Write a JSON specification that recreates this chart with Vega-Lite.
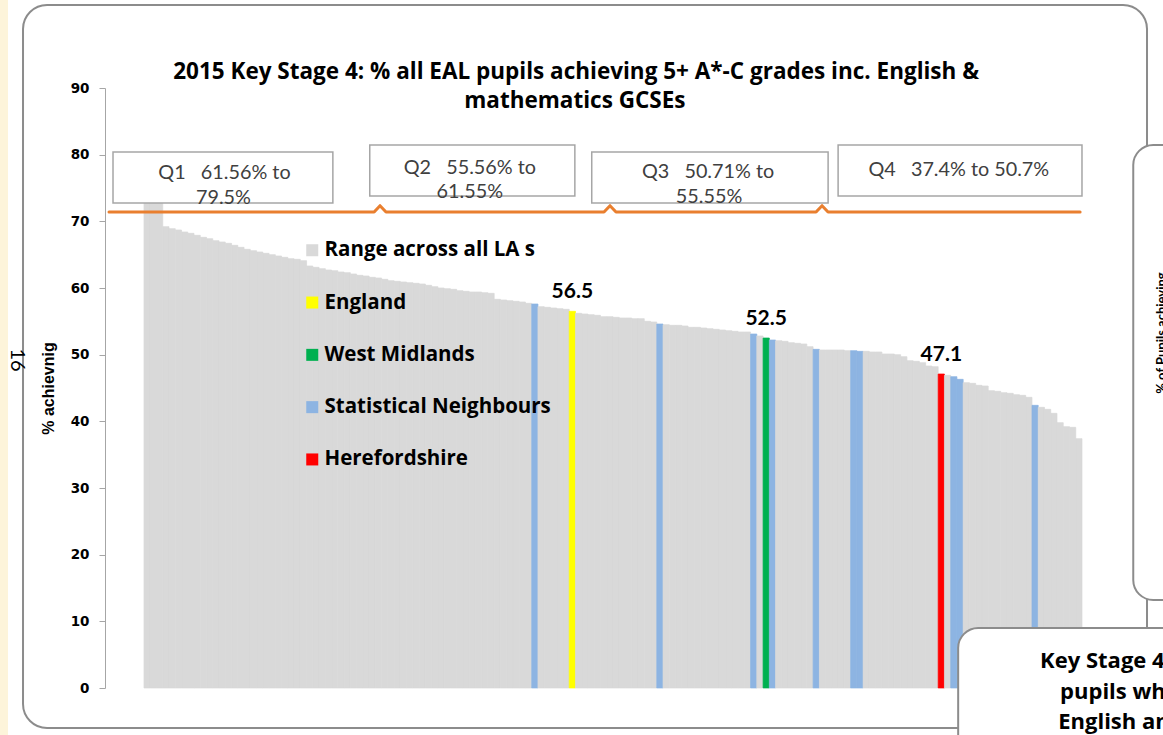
{
  "$schema": "https://vega.github.io/schema/vega-lite/v6.json",
  "width": 1016,
  "height": 600,
  "autosize": {"type": "none"},
  "padding": {"left": 105, "top": 88, "right": 42, "bottom": 47},
  "background": "#FFFFFF",
  "config": {
    "view": {"stroke": null},
    "font": "Lato",
    "axisY": {
      "grid": false, "domainColor": "#A6A6A6", "tickColor": "#A6A6A6", "tickSize": 6,
      "labelFont": "DejaVu Sans", "labelFontWeight": "bold", "labelFontSize": 13.5, "labelColor": "#000000",
      "labelPadding": 10, "titleFont": "Liberation Sans", "titleFontSize": 16, "titleFontWeight": "bold",
      "titleColor": "#000000", "titlePadding": 14
    }
  },
  "datasets": {
    "las": [
      {"rank": 0, "value": 79.5, "group": "Range across all LA s"},
      {"rank": 1, "value": 75.9, "group": "Range across all LA s"},
      {"rank": 2, "value": 73.2, "group": "Range across all LA s"},
      {"rank": 3, "value": 69.2, "group": "Range across all LA s"},
      {"rank": 4, "value": 68.9, "group": "Range across all LA s"},
      {"rank": 5, "value": 68.7, "group": "Range across all LA s"},
      {"rank": 6, "value": 68.4, "group": "Range across all LA s"},
      {"rank": 7, "value": 68.2, "group": "Range across all LA s"},
      {"rank": 8, "value": 67.9, "group": "Range across all LA s"},
      {"rank": 9, "value": 67.6, "group": "Range across all LA s"},
      {"rank": 10, "value": 67.4, "group": "Range across all LA s"},
      {"rank": 11, "value": 67.1, "group": "Range across all LA s"},
      {"rank": 12, "value": 66.9, "group": "Range across all LA s"},
      {"rank": 13, "value": 66.7, "group": "Range across all LA s"},
      {"rank": 14, "value": 66.4, "group": "Range across all LA s"},
      {"rank": 15, "value": 66.1, "group": "Range across all LA s"},
      {"rank": 16, "value": 65.8, "group": "Range across all LA s"},
      {"rank": 17, "value": 65.6, "group": "Range across all LA s"},
      {"rank": 18, "value": 65.4, "group": "Range across all LA s"},
      {"rank": 19, "value": 65.2, "group": "Range across all LA s"},
      {"rank": 20, "value": 65.0, "group": "Range across all LA s"},
      {"rank": 21, "value": 64.8, "group": "Range across all LA s"},
      {"rank": 22, "value": 64.6, "group": "Range across all LA s"},
      {"rank": 23, "value": 64.4, "group": "Range across all LA s"},
      {"rank": 24, "value": 64.3, "group": "Range across all LA s"},
      {"rank": 25, "value": 64.1, "group": "Range across all LA s"},
      {"rank": 26, "value": 63.3, "group": "Range across all LA s"},
      {"rank": 27, "value": 63.1, "group": "Range across all LA s"},
      {"rank": 28, "value": 62.9, "group": "Range across all LA s"},
      {"rank": 29, "value": 62.7, "group": "Range across all LA s"},
      {"rank": 30, "value": 62.6, "group": "Range across all LA s"},
      {"rank": 31, "value": 62.4, "group": "Range across all LA s"},
      {"rank": 32, "value": 62.3, "group": "Range across all LA s"},
      {"rank": 33, "value": 62.1, "group": "Range across all LA s"},
      {"rank": 34, "value": 61.9, "group": "Range across all LA s"},
      {"rank": 35, "value": 61.8, "group": "Range across all LA s"},
      {"rank": 36, "value": 61.6, "group": "Range across all LA s"},
      {"rank": 37, "value": 61.5, "group": "Range across all LA s"},
      {"rank": 38, "value": 61.3, "group": "Range across all LA s"},
      {"rank": 39, "value": 61.1, "group": "Range across all LA s"},
      {"rank": 40, "value": 61.0, "group": "Range across all LA s"},
      {"rank": 41, "value": 60.9, "group": "Range across all LA s"},
      {"rank": 42, "value": 60.8, "group": "Range across all LA s"},
      {"rank": 43, "value": 60.7, "group": "Range across all LA s"},
      {"rank": 44, "value": 60.6, "group": "Range across all LA s"},
      {"rank": 45, "value": 60.4, "group": "Range across all LA s"},
      {"rank": 46, "value": 60.2, "group": "Range across all LA s"},
      {"rank": 47, "value": 60.0, "group": "Range across all LA s"},
      {"rank": 48, "value": 59.9, "group": "Range across all LA s"},
      {"rank": 49, "value": 59.8, "group": "Range across all LA s"},
      {"rank": 50, "value": 59.6, "group": "Range across all LA s"},
      {"rank": 51, "value": 59.5, "group": "Range across all LA s"},
      {"rank": 52, "value": 59.4, "group": "Range across all LA s"},
      {"rank": 53, "value": 59.4, "group": "Range across all LA s"},
      {"rank": 54, "value": 59.3, "group": "Range across all LA s"},
      {"rank": 55, "value": 59.2, "group": "Range across all LA s"},
      {"rank": 56, "value": 58.3, "group": "Range across all LA s"},
      {"rank": 57, "value": 58.2, "group": "Range across all LA s"},
      {"rank": 58, "value": 58.1, "group": "Range across all LA s"},
      {"rank": 59, "value": 58.0, "group": "Range across all LA s"},
      {"rank": 60, "value": 57.9, "group": "Range across all LA s"},
      {"rank": 61, "value": 57.7, "group": "Range across all LA s"},
      {"rank": 62, "value": 57.6, "group": "Statistical Neighbours"},
      {"rank": 63, "value": 57.2, "group": "Range across all LA s"},
      {"rank": 64, "value": 57.1, "group": "Range across all LA s"},
      {"rank": 65, "value": 57.0, "group": "Range across all LA s"},
      {"rank": 66, "value": 56.9, "group": "Range across all LA s"},
      {"rank": 67, "value": 56.8, "group": "Range across all LA s"},
      {"rank": 68, "value": 56.5, "group": "England"},
      {"rank": 69, "value": 56.2, "group": "Range across all LA s"},
      {"rank": 70, "value": 56.1, "group": "Range across all LA s"},
      {"rank": 71, "value": 56.0, "group": "Range across all LA s"},
      {"rank": 72, "value": 55.9, "group": "Range across all LA s"},
      {"rank": 73, "value": 55.7, "group": "Range across all LA s"},
      {"rank": 74, "value": 55.7, "group": "Range across all LA s"},
      {"rank": 75, "value": 55.6, "group": "Range across all LA s"},
      {"rank": 76, "value": 55.5, "group": "Range across all LA s"},
      {"rank": 77, "value": 55.5, "group": "Range across all LA s"},
      {"rank": 78, "value": 55.4, "group": "Range across all LA s"},
      {"rank": 79, "value": 55.4, "group": "Range across all LA s"},
      {"rank": 80, "value": 55.0, "group": "Range across all LA s"},
      {"rank": 81, "value": 54.9, "group": "Range across all LA s"},
      {"rank": 82, "value": 54.6, "group": "Statistical Neighbours"},
      {"rank": 83, "value": 54.5, "group": "Range across all LA s"},
      {"rank": 84, "value": 54.4, "group": "Range across all LA s"},
      {"rank": 85, "value": 54.4, "group": "Range across all LA s"},
      {"rank": 86, "value": 54.3, "group": "Range across all LA s"},
      {"rank": 87, "value": 54.1, "group": "Range across all LA s"},
      {"rank": 88, "value": 54.1, "group": "Range across all LA s"},
      {"rank": 89, "value": 54.0, "group": "Range across all LA s"},
      {"rank": 90, "value": 53.9, "group": "Range across all LA s"},
      {"rank": 91, "value": 53.8, "group": "Range across all LA s"},
      {"rank": 92, "value": 53.7, "group": "Range across all LA s"},
      {"rank": 93, "value": 53.6, "group": "Range across all LA s"},
      {"rank": 94, "value": 53.5, "group": "Range across all LA s"},
      {"rank": 95, "value": 53.4, "group": "Range across all LA s"},
      {"rank": 96, "value": 53.4, "group": "Range across all LA s"},
      {"rank": 97, "value": 53.1, "group": "Statistical Neighbours"},
      {"rank": 98, "value": 52.8, "group": "Range across all LA s"},
      {"rank": 99, "value": 52.5, "group": "West Midlands"},
      {"rank": 100, "value": 52.2, "group": "Statistical Neighbours"},
      {"rank": 101, "value": 52.1, "group": "Range across all LA s"},
      {"rank": 102, "value": 52.0, "group": "Range across all LA s"},
      {"rank": 103, "value": 51.8, "group": "Range across all LA s"},
      {"rank": 104, "value": 51.7, "group": "Range across all LA s"},
      {"rank": 105, "value": 51.6, "group": "Range across all LA s"},
      {"rank": 106, "value": 51.2, "group": "Range across all LA s"},
      {"rank": 107, "value": 50.8, "group": "Statistical Neighbours"},
      {"rank": 108, "value": 50.7, "group": "Range across all LA s"},
      {"rank": 109, "value": 50.7, "group": "Range across all LA s"},
      {"rank": 110, "value": 50.7, "group": "Range across all LA s"},
      {"rank": 111, "value": 50.7, "group": "Range across all LA s"},
      {"rank": 112, "value": 50.6, "group": "Range across all LA s"},
      {"rank": 113, "value": 50.6, "group": "Statistical Neighbours"},
      {"rank": 114, "value": 50.5, "group": "Statistical Neighbours"},
      {"rank": 115, "value": 50.5, "group": "Range across all LA s"},
      {"rank": 116, "value": 50.4, "group": "Range across all LA s"},
      {"rank": 117, "value": 50.4, "group": "Range across all LA s"},
      {"rank": 118, "value": 50.1, "group": "Range across all LA s"},
      {"rank": 119, "value": 50.1, "group": "Range across all LA s"},
      {"rank": 120, "value": 50.0, "group": "Range across all LA s"},
      {"rank": 121, "value": 49.7, "group": "Range across all LA s"},
      {"rank": 122, "value": 49.1, "group": "Range across all LA s"},
      {"rank": 123, "value": 49.0, "group": "Range across all LA s"},
      {"rank": 124, "value": 48.8, "group": "Range across all LA s"},
      {"rank": 125, "value": 48.3, "group": "Range across all LA s"},
      {"rank": 126, "value": 48.2, "group": "Range across all LA s"},
      {"rank": 127, "value": 47.1, "group": "Herefordshire"},
      {"rank": 128, "value": 46.9, "group": "Range across all LA s"},
      {"rank": 129, "value": 46.7, "group": "Statistical Neighbours"},
      {"rank": 130, "value": 46.3, "group": "Statistical Neighbours"},
      {"rank": 131, "value": 45.8, "group": "Range across all LA s"},
      {"rank": 132, "value": 45.7, "group": "Range across all LA s"},
      {"rank": 133, "value": 45.4, "group": "Range across all LA s"},
      {"rank": 134, "value": 45.3, "group": "Range across all LA s"},
      {"rank": 135, "value": 44.6, "group": "Range across all LA s"},
      {"rank": 136, "value": 44.5, "group": "Range across all LA s"},
      {"rank": 137, "value": 44.3, "group": "Range across all LA s"},
      {"rank": 138, "value": 44.2, "group": "Range across all LA s"},
      {"rank": 139, "value": 44.0, "group": "Range across all LA s"},
      {"rank": 140, "value": 43.9, "group": "Range across all LA s"},
      {"rank": 141, "value": 43.6, "group": "Range across all LA s"},
      {"rank": 142, "value": 42.4, "group": "Statistical Neighbours"},
      {"rank": 143, "value": 42.1, "group": "Range across all LA s"},
      {"rank": 144, "value": 41.8, "group": "Range across all LA s"},
      {"rank": 145, "value": 41.2, "group": "Range across all LA s"},
      {"rank": 146, "value": 39.8, "group": "Range across all LA s"},
      {"rank": 147, "value": 39.2, "group": "Range across all LA s"},
      {"rank": 148, "value": 39.1, "group": "Range across all LA s"},
      {"rank": 149, "value": 37.4, "group": "Range across all LA s"}
    ],
    "margin": [{"start": -23.1, "end": -21.75, "top": 115, "bottom": -15}],
    "frame": [{"start": -19.35, "end": 160.4, "top": 102.45, "bottom": -6.0}],
    "qboxes": [
      {"q": "Q1", "start": -4.96, "end": 30.2, "top": 80.4, "bottom": 72.75},
      {"q": "Q2", "start": 36.1, "end": 68.9, "top": 81.45, "bottom": 73.8},
      {"q": "Q3", "start": 71.6, "end": 109.4, "top": 80.4, "bottom": 72.75},
      {"q": "Q4", "start": 111.0, "end": 150.0, "top": 81.45, "bottom": 73.8}
    ],
    "sideboxes": [
      {"panel": "right", "start": 158.2, "end": 185, "top": 81.45, "bottom": 13.2},
      {"panel": "bottom", "start": 130.2, "end": 185, "top": 9.0, "bottom": -25}
    ],
    "bracket": [
      {"pos": -5.6, "level": 71.4},
      {"pos": 36.8, "level": 71.4},
      {"pos": 37.74, "level": 72.35},
      {"pos": 38.7, "level": 71.4},
      {"pos": 73.56, "level": 71.4},
      {"pos": 74.52, "level": 72.35},
      {"pos": 75.48, "level": 71.4},
      {"pos": 107.47, "level": 71.4},
      {"pos": 108.43, "level": 72.35},
      {"pos": 109.39, "level": 71.4},
      {"pos": 149.7, "level": 71.4}
    ],
    "heading": [
      {"label": "2015 Key Stage 4: % all EAL pupils achieving 5+ A*-C grades inc. English &", "pos": 69.1, "level": 92.4},
      {"label": "mathematics GCSEs", "pos": 68.9, "level": 88.05}
    ],
    "qtext": [
      {"label": "Q1\u00a0\u00a0\u00a061.56% to", "pos": 12.87, "level": 77.25},
      {"label": "79.5%", "pos": 12.7, "level": 73.5},
      {"label": "Q2\u00a0\u00a0\u00a055.56% to", "pos": 52.1, "level": 78.0},
      {"label": "61.55%", "pos": 52.1, "level": 74.4},
      {"label": "Q3\u00a0\u00a0\u00a050.71% to", "pos": 90.2, "level": 77.4},
      {"label": "55.55%", "pos": 90.36, "level": 73.65},
      {"label": "Q4\u00a0\u00a0\u00a037.4% to 50.7%", "pos": 130.3, "level": 77.7}
    ],
    "sidetext": [
      {"label": "Key Stage 4", "pos": 143.3, "level": 4.05},
      {"label": "pupils who", "pos": 146.5, "level": -0.6},
      {"label": "English and", "pos": 146.2, "level": -5.1}
    ],
    "rotext": [{"label": "% of Pupils achieving", "pos": 162.8, "level": 53.25}],
    "pagenum": [{"label": "16", "pos": -20.3, "level": 49.2}]
  },
  "layer": [
    {
      "layer": [
        {
          "data": {"name": "las"},
          "mark": {"type": "bar", "strokeWidth": 0.7},
          "encoding": {
            "x": {"field": "rank", "type": "ordinal", "scale": {"paddingInner": 0, "paddingOuter": 0, "range": [39, 977]}, "axis": null},
            "y": {
              "field": "value", "type": "quantitative",
              "scale": {"domain": [0, 90], "nice": false},
              "axis": {"title": "% achievnig", "values": [0, 10, 20, 30, 40, 50, 60, 70, 80, 90]}
            },
            "color": {
              "field": "group", "type": "nominal",
              "scale": {
                "domain": ["Range across all LA s", "England", "West Midlands", "Statistical Neighbours", "Herefordshire"],
                "range": ["#D9D9D9", "#FFFF00", "#00B050", "#8DB4E2", "#FF0000"]
              },
              "legend": {
                "orient": "none", "legendX": 197, "legendY": 152, "title": null, "symbolType": "square",
                "symbolSize": 144, "symbolStrokeWidth": 0, "symbolOpacity": 1, "labelFont": "Open Sans", "labelFontSize": 20.5,
                "labelFontWeight": "bold", "labelColor": "#000000", "labelOffset": 2, "rowPadding": 31.3, "padding": 0,
                "labelLimit": 400
              }
            },
            "stroke": {
              "field": "group", "type": "nominal",
              "scale": {
                "domain": ["Range across all LA s", "England", "West Midlands", "Statistical Neighbours", "Herefordshire"],
                "range": ["#D9D9D9", "#FFFF00", "#00B050", "#8DB4E2", "#FF0000"]
              },
              "legend": null
            }
          }
        },
        {
          "data": {"name": "las"},
          "transform": [{"filter": {"field": "group", "oneOf": ["England", "West Midlands", "Herefordshire"]}}],
          "mark": {"type": "text", "font": "Lato", "fontSize": 21, "fontWeight": "bold", "baseline": "alphabetic", "dy": -13, "color": "#000000"},
          "encoding": {
            "x": {"field": "rank", "type": "ordinal", "axis": null},
            "y": {"field": "value", "type": "quantitative", "scale": {"domain": [0, 90], "nice": false}},
            "text": {"field": "value", "type": "quantitative", "format": ".1f"}
          }
        }
      ]
    },
    {
      "layer": [
        {
          "data": {"name": "margin"},
          "mark": {"type": "rect", "color": "#FDF4DA"},
          "encoding": {
            "x": {"field": "start", "type": "quantitative", "scale": {"domain": [-6.24, 156.24], "nice": false, "zero": false}, "axis": null},
            "x2": {"field": "end"},
            "y": {"field": "top", "type": "quantitative", "scale": {"domain": [0, 90], "nice": false}},
            "y2": {"field": "bottom"}
          }
        },
        {
          "data": {"name": "frame"},
          "mark": {"type": "rect", "fill": "#FFFFFF", "fillOpacity": 0, "stroke": "#8C8C8C", "strokeWidth": 2, "cornerRadius": 24},
          "encoding": {
            "x": {"field": "start", "type": "quantitative", "scale": {"domain": [-6.24, 156.24], "nice": false, "zero": false}, "axis": null},
            "x2": {"field": "end"},
            "y": {"field": "top", "type": "quantitative", "scale": {"domain": [0, 90], "nice": false}},
            "y2": {"field": "bottom"}
          }
        },
        {
          "data": {"name": "qboxes"},
          "mark": {"type": "rect", "fill": "#FFFFFF", "stroke": "#A6A6A6", "strokeWidth": 1.5},
          "encoding": {
            "x": {"field": "start", "type": "quantitative", "scale": {"domain": [-6.24, 156.24], "nice": false, "zero": false}, "axis": null},
            "x2": {"field": "end"},
            "y": {"field": "top", "type": "quantitative", "scale": {"domain": [0, 90], "nice": false}},
            "y2": {"field": "bottom"}
          }
        },
        {
          "data": {"name": "sideboxes"},
          "mark": {"type": "rect", "fill": "#FFFFFF", "stroke": "#8C8C8C", "strokeWidth": 2, "cornerRadius": 20},
          "encoding": {
            "x": {"field": "start", "type": "quantitative", "scale": {"domain": [-6.24, 156.24], "nice": false, "zero": false}, "axis": null},
            "x2": {"field": "end"},
            "y": {"field": "top", "type": "quantitative", "scale": {"domain": [0, 90], "nice": false}},
            "y2": {"field": "bottom"}
          }
        },
        {
          "data": {"name": "bracket"},
          "mark": {"type": "line", "color": "#E97F2F", "strokeWidth": 3, "strokeCap": "round", "strokeJoin": "round"},
          "encoding": {
            "x": {"field": "pos", "type": "quantitative", "scale": {"domain": [-6.24, 156.24], "nice": false, "zero": false}, "axis": null},
            "y": {"field": "level", "type": "quantitative", "scale": {"domain": [0, 90], "nice": false}}
          }
        },
        {
          "data": {"name": "heading"},
          "mark": {"type": "text", "font": "Open Sans", "fontSize": 22.5, "fontWeight": "bold", "color": "#000000", "baseline": "middle", "align": "center"},
          "encoding": {
            "x": {"field": "pos", "type": "quantitative", "scale": {"domain": [-6.24, 156.24], "nice": false, "zero": false}, "axis": null},
            "y": {"field": "level", "type": "quantitative", "scale": {"domain": [0, 90], "nice": false}},
            "text": {"field": "label", "type": "nominal"}
          }
        },
        {
          "data": {"name": "qtext"},
          "mark": {"type": "text", "font": "Lato", "fontSize": 19.8, "color": "#404040", "baseline": "middle", "align": "center"},
          "encoding": {
            "x": {"field": "pos", "type": "quantitative", "scale": {"domain": [-6.24, 156.24], "nice": false, "zero": false}, "axis": null},
            "y": {"field": "level", "type": "quantitative", "scale": {"domain": [0, 90], "nice": false}},
            "text": {"field": "label", "type": "nominal"}
          }
        },
        {
          "data": {"name": "sidetext"},
          "mark": {"type": "text", "font": "Open Sans", "fontSize": 22, "fontWeight": "bold", "color": "#000000", "baseline": "middle", "align": "left"},
          "encoding": {
            "x": {"field": "pos", "type": "quantitative", "scale": {"domain": [-6.24, 156.24], "nice": false, "zero": false}, "axis": null},
            "y": {"field": "level", "type": "quantitative", "scale": {"domain": [0, 90], "nice": false}},
            "text": {"field": "label", "type": "nominal"}
          }
        },
        {
          "data": {"name": "rotext"},
          "mark": {"type": "text", "font": "Lato", "fontSize": 13, "fontWeight": "bold", "color": "#000000", "baseline": "middle", "align": "center", "angle": 270},
          "encoding": {
            "x": {"field": "pos", "type": "quantitative", "scale": {"domain": [-6.24, 156.24], "nice": false, "zero": false}, "axis": null},
            "y": {"field": "level", "type": "quantitative", "scale": {"domain": [0, 90], "nice": false}},
            "text": {"field": "label", "type": "nominal"}
          }
        },
        {
          "data": {"name": "pagenum"},
          "mark": {"type": "text", "font": "Lato", "fontSize": 20, "color": "#000000", "baseline": "middle", "align": "center", "angle": 90},
          "encoding": {
            "x": {"field": "pos", "type": "quantitative", "scale": {"domain": [-6.24, 156.24], "nice": false, "zero": false}, "axis": null},
            "y": {"field": "level", "type": "quantitative", "scale": {"domain": [0, 90], "nice": false}},
            "text": {"field": "label", "type": "nominal"}
          }
        }
      ]
    }
  ],
  "resolve": {"scale": {"x": "independent"}}
}
